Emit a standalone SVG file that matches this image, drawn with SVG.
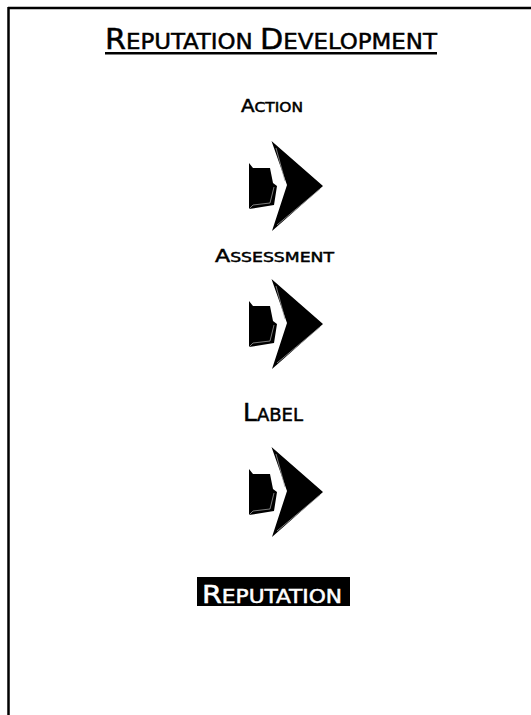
<svg xmlns="http://www.w3.org/2000/svg" width="531" height="715" viewBox="0 0 531 715">
<style>
.t{font-family:"DejaVu Sans","Liberation Sans",sans-serif;font-stretch:condensed;fill:#000;stroke:#000;stroke-width:0.45;text-anchor:middle}
.w{fill:#fff;stroke:#fff}
.bev{fill:none;stroke:#9a9a9a;stroke-width:0.8}
</style>
<defs>
<g id="arrow">
<polygon points="-26,12 -22,17 -5,17 -2,32 2,35 -1,54 -26,58" fill="#000"/>
<polyline class="bev" points="-26,58 -22,54 -5,52 -1,36"/>
<polygon points="-3.5,-10 48,35 -3,80 12,34" fill="#000"/>
<line class="bev" x1="1" y1="-3" x2="10" y2="30"/>
<line class="bev" x1="45" y1="38" x2="2" y2="74"/>
</g>
</defs>
<rect width="531" height="715" fill="#fff"/>
<g id="frame">
<line x1="8" y1="8" x2="531" y2="8" stroke="#000" stroke-width="2.5"/>
<line x1="8.5" y1="7" x2="8.5" y2="715" stroke="#000" stroke-width="2.5"/>
</g>
<g id="title">
<text class="t" x="271" y="49" textLength="332" lengthAdjust="spacingAndGlyphs"><tspan font-size="29">R</tspan><tspan font-size="22">EPUTATION </tspan><tspan font-size="29">D</tspan><tspan font-size="22">EVELOPMENT</tspan></text>
<rect x="105" y="52" width="332" height="2.5" fill="#000"/>
</g>
<g id="action">
<text class="t" x="272" y="112" textLength="62" lengthAdjust="spacingAndGlyphs"><tspan font-size="18">A</tspan><tspan font-size="14">CTION</tspan></text>
</g>
<g id="assessment">
<text class="t" x="274.5" y="262" textLength="119" lengthAdjust="spacingAndGlyphs"><tspan font-size="18">A</tspan><tspan font-size="14">SSESSMENT</tspan></text>
</g>
<g id="label">
<text class="t" x="273" y="421" textLength="60" lengthAdjust="spacingAndGlyphs"><tspan font-size="25">L</tspan><tspan font-size="18">ABEL</tspan></text>
</g>
<g id="reputation">
<rect x="197" y="577" width="153" height="29" fill="#000"/>
<text class="t w" x="272" y="603" textLength="140" lengthAdjust="spacingAndGlyphs"><tspan font-size="25">R</tspan><tspan font-size="19">EPUTATION</tspan></text>
</g>
<g id="connectors">
<use href="#arrow" transform="translate(275,151)"/>
<use href="#arrow" transform="translate(275,289)"/>
<use href="#arrow" transform="translate(275,457)"/>
</g>
</svg>
